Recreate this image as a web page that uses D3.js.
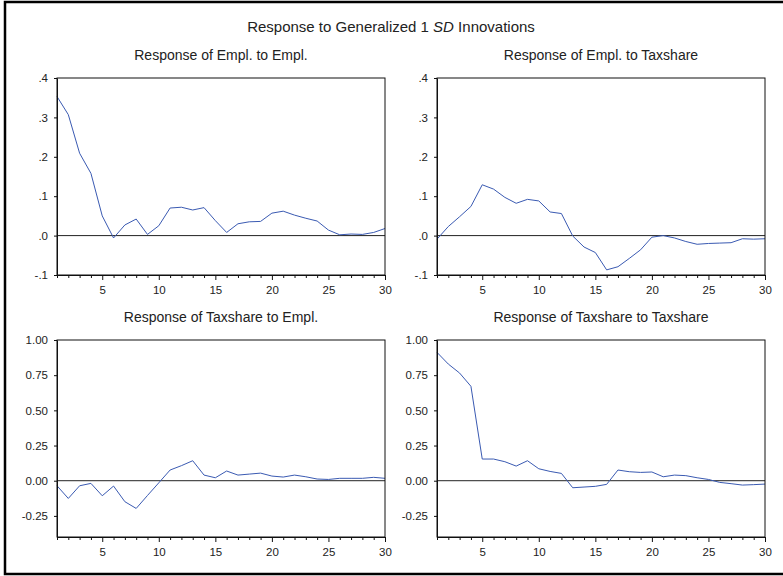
<!DOCTYPE html>
<html>
<head>
<meta charset="utf-8">
<script src="https://cdn.jsdelivr.net/npm/d3@7"></script>
<style>
  body { margin: 0; background: #fff; }
  svg { display: block; font-family: "Liberation Sans", Arial, sans-serif; }
  .axis text { fill: #222; font-size: 11.5px; }
  .axis path, .axis line { stroke: #111; }
</style>
</head>
<body>
<div class="container"></div>
<script>
var periods = d3.range(1, 31);

var emplToEmpl = [0.353, 0.307, 0.209, 0.158, 0.050, -0.006, 0.027, 0.042, 0.003, 0.025,
	0.070, 0.072, 0.065, 0.071, 0.038, 0.008, 0.030, 0.035, 0.036, 0.057,
	0.062, 0.052, 0.044, 0.037, 0.014, 0.002, 0.004, 0.003, 0.008, 0.018];

var emplToTax = [-0.009, 0.023, 0.048, 0.074, 0.129, 0.118, 0.097, 0.082, 0.092, 0.088,
	0.060, 0.056, -0.001, -0.029, -0.043, -0.087, -0.079, -0.058, -0.036, -0.004,
	0.000, -0.006, -0.015, -0.022, -0.020, -0.019, -0.018, -0.008, -0.009, -0.008];

var taxToEmpl = [-0.036, -0.126, -0.036, -0.019, -0.107, -0.038, -0.149, -0.197, -0.105, -0.015,
	0.076, 0.107, 0.142, 0.040, 0.021, 0.069, 0.040, 0.047, 0.054, 0.033,
	0.026, 0.040, 0.028, 0.012, 0.009, 0.017, 0.017, 0.017, 0.024, 0.017];

var taxToTax = [0.912, 0.829, 0.765, 0.671, 0.154, 0.154, 0.135, 0.104, 0.142, 0.085,
	0.066, 0.052, -0.050, -0.045, -0.040, -0.026, 0.076, 0.064, 0.059, 0.062,
	0.028, 0.040, 0.036, 0.021, 0.009, -0.012, -0.021, -0.031, -0.028, -0.024];

var titles = ["Response of Empl. to Empl.", "Response of Empl. to Taxshare",
	"Response of Taxshare to Empl.", "Response of Taxshare to Taxshare"];

var topTicks = [-0.1, 0, 0.1, 0.2, 0.3, 0.4];
var bottomTicks = [-0.25, 0, 0.25, 0.5, 0.75, 1.0];

var W = 783, H = 576;
var svg = d3.select('.container').append('svg').attr('width', W).attr('height', H);

// outer frame (right side runs off the picture)
svg.append('path')
	.attr('d', 'M' + (W + 5) + ',2 H5 V574 H' + (W + 5))
	.attr('fill', 'none').attr('stroke', '#000').attr('stroke-width', 2.5);

var title = svg.append('text')
	.attr('x', 391).attr('y', 32)
	.attr('text-anchor', 'middle')
	.attr('font-size', 15).attr('fill', '#222');
title.append('tspan').text('Response to Generalized 1 ');
title.append('tspan').attr('font-style', 'italic').text('SD');
title.append('tspan').text(' Innovations');

// plain hyphen for negatives, like the original
var loc = d3.formatLocale({ decimal: '.', thousands: ',', grouping: [3], currency: ['', ''], minus: '-' });
var dotFmt = function(d){
	return loc.format('.1f')(d).replace(/^(-?)0\./, '$1.');
};
var twoFmt = loc.format('.2f');

var panels = [
	{ values: emplToEmpl, left: 57, top: 78, dom: [-0.1, 0.4], ticks: topTicks, fmt: dotFmt },
	{ values: emplToTax, left: 437, top: 78, dom: [-0.1, 0.4], ticks: topTicks, fmt: dotFmt },
	{ values: taxToEmpl, left: 57, top: 340, dom: [-0.4, 1.0], ticks: bottomTicks, fmt: twoFmt },
	{ values: taxToTax, left: 437, top: 340, dom: [-0.4, 1.0], ticks: bottomTicks, fmt: twoFmt }
];

var pw = 328, ph = 197;

panels.forEach(function(p, i){
	var g = svg.append('g').attr('transform', 'translate(' + p.left + ',' + p.top + ')');

	var x = d3.scaleLinear().domain([1, 30]).range([0, pw]);
	var y = d3.scaleLinear().domain(p.dom).range([ph, 0]);

	g.append('text')
		.attr('x', pw / 2).attr('y', -18.5)
		.attr('text-anchor', 'middle')
		.attr('font-size', 14).attr('fill', '#222')
		.text(titles[i]);

	// zero line
	g.append('line')
		.attr('x1', 0).attr('x2', pw)
		.attr('y1', y(0)).attr('y2', y(0))
		.attr('stroke', '#222').attr('stroke-width', 1);

	var line = d3.line()
		.x(function(d, j){ return x(periods[j]); })
		.y(function(d){ return y(d); });

	g.append('path')
		.datum(p.values)
		.attr('d', line)
		.attr('fill', 'none')
		.attr('stroke', '#3a5ab2')
		.attr('stroke-width', 1);

	var xAxis = g.append('g').attr('class', 'axis')
		.attr('transform', 'translate(0,' + ph + ')')
		.call(d3.axisBottom(x).tickValues(periods).tickSizeOuter(0)
			.tickFormat(function(d){ return d % 5 === 0 ? d : ''; }));
	xAxis.selectAll('.tick line')
		.attr('y2', function(d){ return d % 5 === 0 ? 5 : 3; });
	xAxis.selectAll('.tick text').attr('y', 10.5);

	g.append('g').attr('class', 'axis')
		.call(d3.axisLeft(y).tickValues(p.ticks).tickSize(3).tickSizeOuter(0)
			.tickPadding(6).tickFormat(p.fmt));

	g.append('rect')
		.attr('x', 0).attr('y', 0).attr('width', pw).attr('height', ph)
		.attr('fill', 'none').attr('stroke', '#111').attr('stroke-width', 1);
});
</script>
</body>
</html>
